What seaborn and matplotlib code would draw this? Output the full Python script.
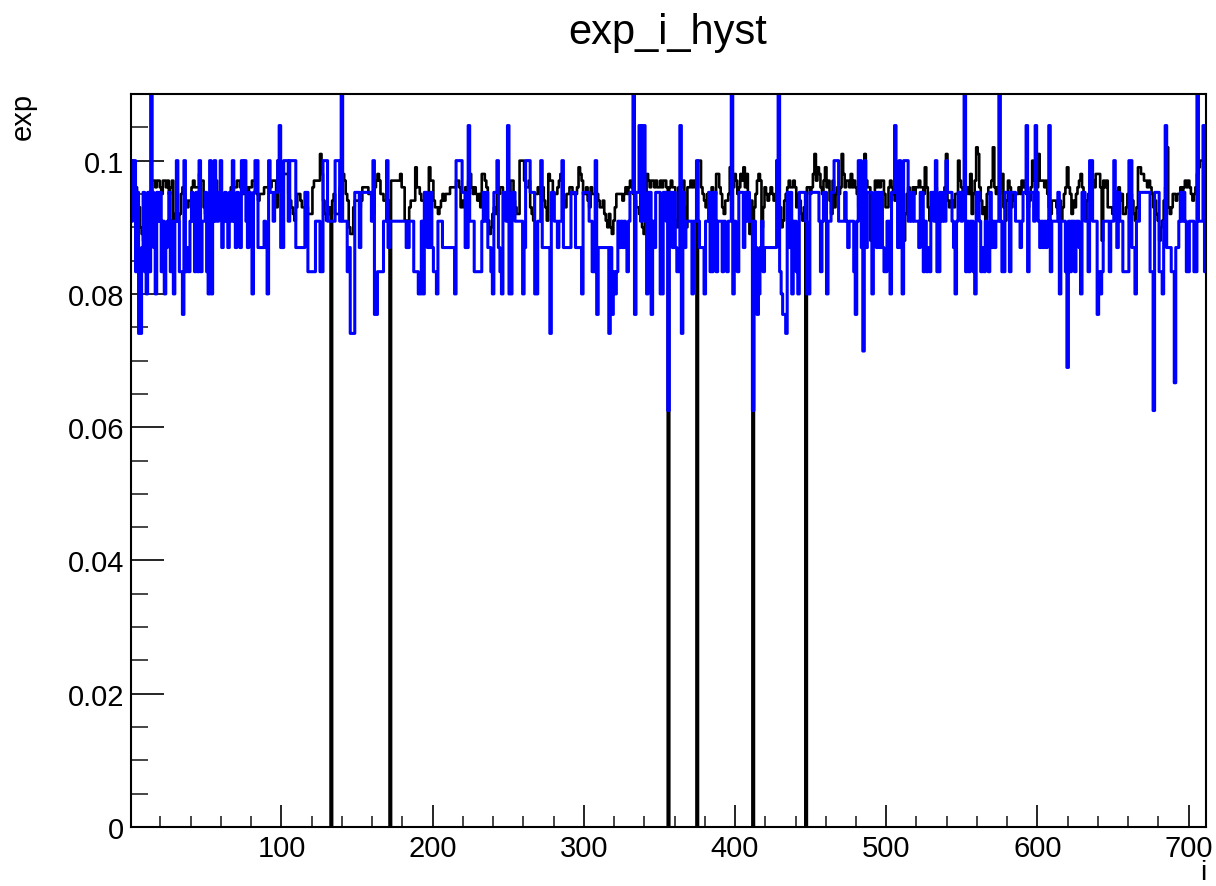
import numpy as np
import pandas as pd
import matplotlib
matplotlib.use("Agg")
import matplotlib.pyplot as plt
import seaborn as sns
from matplotlib.ticker import FixedLocator, MultipleLocator, FuncFormatter

# ---------------------------------------------------------------------------
# Data: 711 bins, i = 1 .. 711 (bin edges at half-integers)
# ---------------------------------------------------------------------------
N_BINS = 711
I_LOW, I_HIGH = 0.5, 711.5

# Blue histogram: every bin holds 2/n. One character per bin gives n - 18
# (hex digit), ten bins per group.
BLUE_CODES = [
    "4226399536", "7360357343", "6475436474", "2466826564", "3463626443",
    "6727424432", "5434534245", "3452324534", "7322555545", "7233433215",
    "5222422225", "5555533666", "6644466222", "4444422240", "4446599933",
    "3533333334", "2886666442", "5444444444", "4455444666", "7747335535",
    "6674445555", "5555722223", "3551444666", "6643435567", "3325673341",
    "7733444447", "5222333774", "4255555933", "4454425555", "5333555573",
    "3334466285", "5555559586", "7645454564", "3308331411", "4733845333",
    "77334e3353", "5661935444", "4744245557", "4436633644", "4645644074",
    "5633353434", "4e45875465", "5555555206", "7889353744", "6733334773",
    "3333346433", "7443322244", "4434544468", "4225a25333", "7435353566",
    "4473313525", "7222434344", "4533646563", "3426634342", "3334574334",
    "3064644673", "3465645635", "4544046633", "3633344454", "3316333413",
    "4545454164", "444374446b", "4644644573", "3446224448", "6764444644",
    "2353446666", "2255744333", "333366e333", "6674155566", "c554343466",
    "4446604441", "6",
]

# Black histogram: value in units of 0.001, each character gives value - 80
# in base 36 ('k' = 0.100); '-' marks an empty bin.
BLACK_CODES = [
    "kkhgfda98a", "deffhhghhg", "fhhghfghbc", "bbcfgfedee", "ghgggihhdc",
    "ccdjihhfdc", "cbcceeghgg", "hhgffggfgg", "hhgfefffgg", "ggghhhdkji",
    "iiiifedcbd", "ffeddddccc", "ghhhhliecb", "cd-efcccgi", "ihfea99dee",
    "edeggggffd", "cghihffeed", "e-hhhhhhig", "gbbbdeeejg", "gfeeeefjhh",
    "eddcdefeff", "fgggghhgde", "dgfhigfgfe", "fdiihgb9ac", "dcffggfccb",
    "fhhedcckkk", "hgghdcbffg", "ffgedbihhf", "ffghihedff", "ggfffgjihf",
    "fgedgffffe", "ddecbaca9b", "dffffefgfg", "hgfeddcba9", "cihghhghgg",
    "hghhg-ghgg", "baggghdagg", "hghg-kkgfe", "dfffgffiig", "fdceefjhgi",
    "hfgihjgif9", "e-dfhihadg", "fefgfefkgd", "abefghgghg", "dfecbd-ggf",
    "gilhjigfhj", "ghechdfgfg", "lighhgighg", "fdbeclhgg8", "afhghghhfd",
    "dghgfefged", "a8cfgfegfg", "ghggfjgdbc", "efgbeffegl", "edeedffkhg",
    "fefgficfhm", "lgecdbfggh", "mgfgfgidbe", "hgdfeffgfh", "ghfdegkhgg",
    "lhhhghfdce", "eedcebdfgj", "gfcedfghig", "dbefhhhgii", "ig8hghdddc",
    "cfegefccdf", "efecbdjjii", "hhghgfdecb", "8abegmdcdf", "feffgfghgh",
    "gfefgijkkk", "k",
]

X_MAJOR = [100, 200, 300, 400, 500, 600, 700]
Y_MAJOR = [0.0, 0.02, 0.04, 0.06, 0.08, 0.10]

TITLE = "exp_i_hyst"
X_TITLE = "i"
Y_TITLE = "exp"


def decode_blue(groups):
    chars = "".join(groups)
    return np.array([2.0 / (18 + int(c, 16)) for c in chars])


def decode_black(groups):
    chars = "".join(groups)
    return np.array([0.0 if c == "-" else (80 + int(c, 36)) / 1000.0 for c in chars])


exp_blue = decode_blue(BLUE_CODES)
exp_black = decode_black(BLACK_CODES)
if len(exp_blue) != N_BINS or len(exp_black) != N_BINS:
    raise ValueError(f"bin count mismatch: blue={len(exp_blue)} black={len(exp_black)}")

i_centers = np.arange(1, N_BINS + 1)
df = pd.DataFrame({"i": i_centers, "black": exp_black, "blue": exp_blue})

# ---------------------------------------------------------------------------
# Figure
# ---------------------------------------------------------------------------
sns.set_theme(style="white")
plt.rcParams["font.family"] = ["Liberation Sans", "DejaVu Sans"]

W, H = 1216, 887
DPI = 100
fig = plt.figure(figsize=(W / DPI, H / DPI), dpi=DPI, facecolor="white")
ax = fig.add_axes([131 / W, 1 - 828 / H, (1206 - 131) / W, (828 - 95) / H])
ax.set_facecolor("white")

hist_kw = dict(x="i", bins=N_BINS, binrange=(I_LOW, I_HIGH),
               element="step", fill=False, ax=ax)
sns.histplot(data=df, weights="black", color="black", linewidth=1.9, **hist_kw)
sns.histplot(data=df, weights="blue", color="#0000ff", linewidth=2.2, **hist_kw)

ax.set_xlim(I_LOW, I_HIGH)
ax.set_ylim(0, 0.11)
ax.set_xlabel("")
ax.set_ylabel("")

for side in ["left", "right", "top", "bottom"]:
    ax.spines[side].set_visible(True)
    ax.spines[side].set_color("black")
    ax.spines[side].set_linewidth(1.5)

ax.xaxis.set_major_locator(FixedLocator(X_MAJOR))
ax.xaxis.set_minor_locator(MultipleLocator(20))
ax.yaxis.set_major_locator(FixedLocator(Y_MAJOR))
ax.yaxis.set_minor_locator(MultipleLocator(0.005))
ax.yaxis.set_major_formatter(FuncFormatter(lambda v, p: f"{v:g}"))
ax.xaxis.set_major_formatter(FuncFormatter(lambda v, p: f"{v:g}"))

ax.tick_params(axis="x", which="major", direction="in", length=16, width=1.2,
               bottom=True, top=False, labelsize=21, pad=5, colors="black")
ax.tick_params(axis="x", which="minor", direction="in", length=8, width=1.2,
               bottom=True, top=False)
ax.tick_params(axis="y", which="major", direction="in", length=24, width=1.2,
               left=True, right=False, labelsize=21, pad=5, colors="black")
ax.tick_params(axis="y", which="minor", direction="in", length=12, width=1.2,
               left=True, right=False)

fig.text(668 / W, 1 - 33 / H, TITLE, ha="center", va="center", fontsize=30, color="black")
fig.text(23 / W, 1 - 93 / H, Y_TITLE, rotation=90, ha="center", va="top",
         fontsize=21, color="black")
fig.text(1206 / W, 1 - 880 / H, X_TITLE, ha="right", va="baseline", fontsize=20, color="black")

fig.savefig("out.png", dpi=DPI, facecolor="white")
